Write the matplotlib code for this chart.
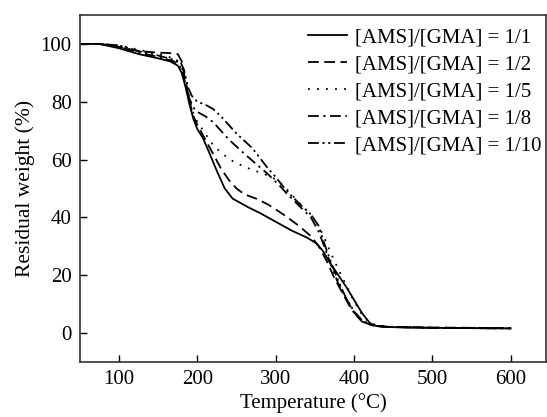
import matplotlib
matplotlib.use('Agg')
import matplotlib.pyplot as plt

plt.rcParams['font.family'] = ['Liberation Serif', 'DejaVu Serif']
plt.rcParams['mathtext.fontset'] = 'stix'

# TGA curves, (temperature, residual weight %)
t_1_1 = [50, 75, 100, 125, 150, 165, 175, 180, 185, 190, 195, 200, 207, 215, 225, 235, 245, 255, 265, 280,
         300, 320, 340, 352, 360, 370, 380, 390, 400, 410, 420, 428, 440, 470, 500, 550, 600]
w_1_1 = [100, 100, 98.5, 96.5, 95, 94, 92.5, 90, 85, 79, 74, 70.5, 67.5, 62.5, 56, 50, 46.5, 45, 43.5, 41.5,
         38.5, 35.5, 33, 31, 28.5, 24, 20, 16, 11.5, 7, 3.5, 2.5, 2.1, 1.9, 1.8, 1.7, 1.6]

t_1_2 = [50, 75, 100, 125, 150, 165, 175, 180, 185, 190, 195, 200, 210, 220, 230, 240, 250, 260, 275, 290,
         310, 330, 345, 355, 365, 375, 385, 395, 405, 415, 425, 440, 500, 600]
w_1_2 = [100, 100, 99, 97.5, 97, 96.8, 96.5, 94, 87, 80, 75, 72, 67, 62, 57, 53, 50, 48, 46.5, 44.5,
         41, 37, 33.5, 30, 25, 19, 14, 9, 5.5, 3.5, 2.5, 2.2, 1.9, 1.7]

t_1_5 = [50, 75, 100, 125, 150, 170, 180, 185, 190, 195, 200, 210, 220, 232, 245, 260, 280, 295, 310, 320,
         330, 345, 355, 362, 370, 380, 390, 400, 410, 420, 430, 445, 500, 600]
w_1_5 = [100, 100, 99.5, 98, 96.5, 95, 92, 87, 81, 76, 73, 69, 65, 62, 59.5, 57.5, 55.5, 54, 51, 48,
         45, 41, 37, 33, 28, 22, 16.5, 11, 6.5, 3.5, 2.6, 2.2, 1.9, 1.7]

t_1_8 = [50, 75, 100, 125, 150, 170, 180, 185, 190, 195, 200, 210, 220, 230, 240, 250, 260, 275, 290, 305,
         315, 330, 345, 355, 362, 370, 380, 390, 400, 410, 420, 430, 445, 500, 600]
w_1_8 = [100, 100, 99, 97, 95.5, 94, 91.5, 86, 81, 78, 76.5, 75, 73, 70, 67, 64.5, 62, 58.5, 55, 51,
         48, 44, 40, 35, 30, 24, 17, 12, 7, 4, 3, 2.4, 2.1, 1.8, 1.6]

t_1_10 = [50, 75, 100, 125, 150, 170, 178, 183, 188, 193, 200, 210, 220, 230, 240, 250, 260, 270, 280, 290,
          300, 310, 320, 335, 345, 355, 362, 370, 380, 390, 400, 410, 420, 430, 445, 500, 600]
w_1_10 = [100, 100, 99.5, 97.5, 96, 94.5, 94, 91, 85, 82, 80, 79, 77.5, 75, 72, 69, 66.5, 64, 60.5, 57,
          54, 50.5, 47.5, 43.5, 41, 37, 31, 25, 18, 12, 7.5, 4.5, 3, 2.4, 2.1, 1.8, 1.6]

labels = ['[AMS]/[GMA] = 1/1', '[AMS]/[GMA] = 1/2', '[AMS]/[GMA] = 1/5',
          '[AMS]/[GMA] = 1/8', '[AMS]/[GMA] = 1/10']
styles = ['-', (0, (6, 3)), (0, (1, 4)), (0, (6, 2.5, 1.2, 2.5)), (0, (6, 2, 1.2, 2, 1.2, 2))]

fig = plt.figure(figsize=(5.47, 4.17), dpi=100)
ax = fig.add_axes([0.146, 0.132, 0.852, 0.832])

series = [(t_1_1, w_1_1), (t_1_2, w_1_2), (t_1_5, w_1_5), (t_1_8, w_1_8), (t_1_10, w_1_10)]
for (t, w), ls, lab in zip(series, styles, labels):
    ax.plot(t, w, color='black', linestyle=ls, linewidth=1.3, label=lab)

ax.set_xlim(50, 645)
ax.set_ylim(-10, 110)
ax.set_xticks([100, 200, 300, 400, 500, 600])
ax.set_yticks([0, 20, 40, 60, 80, 100])
ax.tick_params(direction='in', length=5, width=1, labelsize=15, pad=6)
for s in ax.spines.values():
    s.set_linewidth(1.2)
    s.set_color('#333333')

ax.set_xlabel('Temperature (°C)', fontsize=15, labelpad=3)
ax.set_ylabel('Residual weight (%)', fontsize=15.5, labelpad=4)

ax.legend(loc='upper left', bbox_to_anchor=(0.49, 0.962), frameon=False, fontsize=15,
          handlelength=1.85, handletextpad=0.4, labelspacing=0.35, borderpad=0, borderaxespad=0)

fig.savefig('out.png', dpi=100)
